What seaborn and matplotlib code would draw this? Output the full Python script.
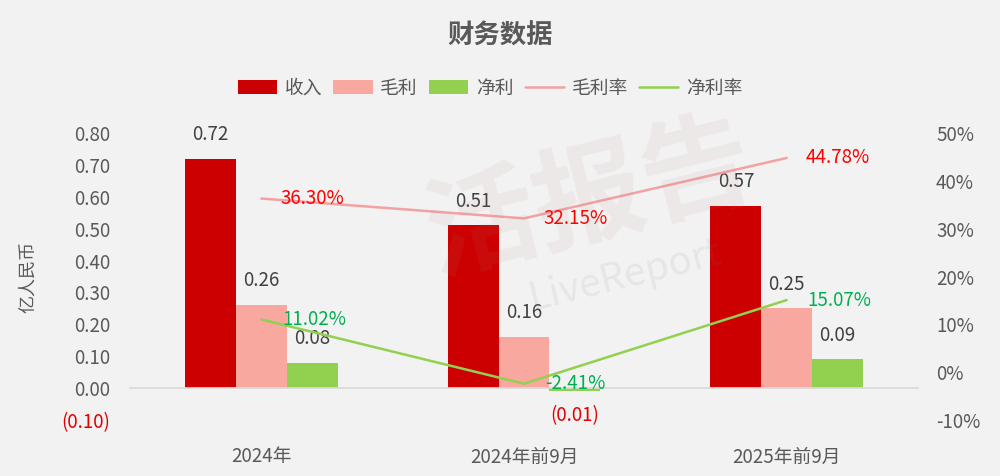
import numpy as np
import pandas as pd
import matplotlib
matplotlib.use("Agg")
import matplotlib.pyplot as plt
import seaborn as sns
from matplotlib.patches import Patch
from matplotlib.lines import Line2D
from matplotlib.ticker import MultipleLocator, FuncFormatter

# ---- data ----
categories = ["2024年", "2024年前9月", "2025年前9月"]
revenue = [0.72, 0.51, 0.57]        # 收入 (亿人民币)
gross_profit = [0.26, 0.16, 0.25]   # 毛利
net_profit = [0.08, -0.01, 0.09]    # 净利
gross_margin = [36.30, 32.15, 44.78]  # 毛利率 (%)
net_margin = [11.02, -2.41, 15.07]    # 净利率 (%)

bar_series = ["收入", "毛利", "净利"]
bar_colors = ["#cc0000", "#f9a8a0", "#92d050"]
gm_color = "#f2a2a2"
nm_color = "#92d050"

df = pd.DataFrame({
    "category": categories * 3,
    "series": [s for s in bar_series for _ in categories],
    "value": revenue + gross_profit + net_profit,
})

# ---- style ----
sns.set_theme(style="white")
plt.rcParams["font.family"] = ["Noto Sans CJK SC", "DejaVu Sans"]
plt.rcParams["axes.unicode_minus"] = False
bg = "#f2f2f2"
txt = "#595959"

fig = plt.figure(figsize=(10, 4.76), dpi=100, facecolor=bg)

# faint watermark (behind everything)
fig.text(0.59, 0.58, "活报告", fontsize=80, fontweight="bold", color="#c08080",
         alpha=0.09, rotation=14, ha="center", va="center", zorder=0)
fig.text(0.625, 0.42, "LiveReport", fontsize=28, color="#808080",
         alpha=0.10, rotation=14, ha="center", va="center", zorder=0)

ax = fig.add_axes([0.13, 0.1176, 0.788, 0.603])
ax.set_facecolor("none")

sns.barplot(data=df, x="category", y="value", hue="series", hue_order=bar_series,
            order=categories, palette=bar_colors, width=0.58, ax=ax,
            legend=False, saturation=1, errorbar=None, linewidth=0)

ax.set_ylim(-0.1, 0.8)
ax.set_xlim(-0.5, len(categories) - 0.5)
ax.yaxis.set_major_locator(MultipleLocator(0.1))
ax.yaxis.set_major_formatter(FuncFormatter(
    lambda v, p: f"({abs(v):.2f})" if v < -1e-9 else f"{abs(v):.2f}"))
ax.set_ylabel("亿人民币", fontsize=13, color=txt, labelpad=18)
ax.set_xlabel("")

for s in ["top", "right", "left"]:
    ax.spines[s].set_visible(False)
ax.spines["bottom"].set_position(("data", 0))
ax.spines["bottom"].set_color("#d9d9d9")
ax.tick_params(axis="y", length=0, pad=14, labelsize=13.5, colors=txt)
ax.tick_params(axis="x", which="major", length=0, pad=42, labelsize=13.5, colors=txt)
ax.set_xticks(np.arange(-0.5, len(categories)), minor=True)
ax.tick_params(axis="x", which="minor", length=5, color="#d9d9d9", direction="out")

fig.canvas.draw()
for lab in ax.get_yticklabels():
    if lab.get_text().startswith("("):
        lab.set_color("#e00000")

# bar value labels
for cont, vals in zip(ax.containers, [revenue, gross_profit, net_profit]):
    for patch, v in zip(cont.patches, vals):
        xc = patch.get_x() + patch.get_width() / 2
        if v >= 0:
            ax.annotate(f"{v:.2f}", (xc, v), xytext=(0, 10), textcoords="offset points",
                        ha="center", va="bottom", fontsize=13.5, color="#404040")
        else:
            ax.annotate(f"({abs(v):.2f})", (xc, v), xytext=(0, -10), textcoords="offset points",
                        ha="center", va="top", fontsize=13.5, color="#e00000")

# ---- rate lines on secondary axis ----
ax2 = ax.twinx()
xpos = np.arange(len(categories))
sns.lineplot(x=xpos, y=gross_margin, ax=ax2, color=gm_color, linewidth=1.8, legend=False)
sns.lineplot(x=xpos, y=net_margin, ax=ax2, color=nm_color, linewidth=1.8, legend=False)
ax2.set_ylim(-10, 50)
ax2.yaxis.set_major_locator(MultipleLocator(10))
ax2.yaxis.set_major_formatter(FuncFormatter(lambda v, p: f"{v:.0f}%"))
for s in ax2.spines.values():
    s.set_visible(False)
ax2.tick_params(axis="y", length=0, pad=13, labelsize=13.5, colors=txt)
ax2.set_ylabel("")

for x, v in zip(xpos, gross_margin):
    ax2.annotate(f"{v:.2f}%", (x, v), xytext=(14, 0), textcoords="offset points",
                 ha="left", va="center", fontsize=13.5, color="#ff0000")
for x, v in zip(xpos, net_margin):
    ax2.annotate(f"{v:.2f}%", (x, v), xytext=(15, 0), textcoords="offset points",
                 ha="left", va="center", fontsize=13.5, color="#00b050")

# title & legend
fig.text(0.5, 0.925, "财务数据", fontsize=19, fontweight="bold", color="#595959",
         ha="center", va="center")
handles = [Patch(facecolor=c, edgecolor="none") for c in bar_colors] + [
    Line2D([0], [0], color=gm_color, lw=1.8),
    Line2D([0], [0], color=nm_color, lw=1.8)]
labels = bar_series + ["毛利率", "净利率"]
leg = fig.legend(handles, labels, loc="center", bbox_to_anchor=(0.49, 0.815), ncol=5,
                 frameon=False, fontsize=13.5, handlelength=2.1, handleheight=0.7,
                 handletextpad=0.4, columnspacing=0.6)
for t in leg.get_texts():
    t.set_color(txt)

fig.savefig("out.png", dpi=100, facecolor=bg)
